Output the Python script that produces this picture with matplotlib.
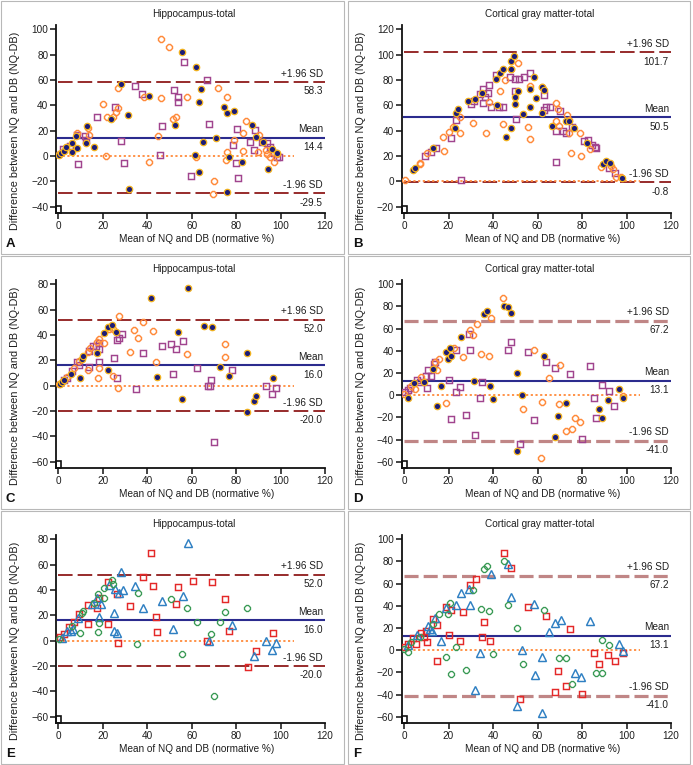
import matplotlib
matplotlib.use("Agg")
import matplotlib.pyplot as plt
from matplotlib import font_manager
from matplotlib.patches import Rectangle
import numpy as np

# the reference text is tall and narrow; use the narrow face when it is there
_names = {f.name for f in font_manager.fontManager.ttflist}
if 'Liberation Sans Narrow' in _names:
    HFAM, FS = ['Liberation Sans Narrow', 'DejaVu Sans'], 8.5
else:
    HFAM, FS = ['Liberation Sans', 'DejaVu Sans'], 7.2
plt.rcParams['font.family'] = HFAM
YFAM, YFS = ['Liberation Sans', 'DejaVu Sans'], 7.85

# ---- data (x = mean of NQ and DB, y = NQ - DB) ----
a_dots = [(0.5, 1), (1, 2), (2.7, 4), (3.3, 7), (6, 3.4), (6.3, 10.5), (8.2, 6), (8, 16),
          (12.5, 10.5), (13, 23.7), (16.2, 7), (23.7, 29), (28, 57), (31.5, 32), (32, -26.3),
          (41, 47.4), (52.5, 24.5), (55.6, 82), (62, 70.5), (64, 53), (63.4, 43), (63.4, -12.4),
          (65.3, 11.3), (61.6, 0.8), (71, 14), (74.5, 39), (75.8, 34.2), (79, 35.5), (76, -28.4),
          (77, -0.5), (82.5, -4.7), (87, 24.5), (89, 15.3), (92.3, 11.3), (94.5, -10.3),
          (96.3, 5.3), (98.5, 2)]
a_circles = [(0.5, 1.6), (8.5, 18), (13.5, 22), (14, 16.6), (20, 41), (22, 31), (24.5, 30.5),
             (27, 53.7), (27, 37.6), (26, 35), (21.5, 0.3), (38.5, 46.3), (41, -4.5), (45, 16),
             (46, 92.4), (46, 45.5), (49.7, 86), (51.5, 29), (53, 31), (57.7, 46.3), (62, -0.5),
             (70.2, -19.5), (69.8, -30), (72, 53.4), (75.8, 46.3), (76, 3.4), (75.5, -3.2),
             (79, 13), (83, 18.4), (83.3, 4), (84.5, 27.6), (90, 3.4), (90.5, 16.6), (93.4, 4.7),
             (93.8, 1.6), (95.2, -1), (97, -4.5), (98.3, 1.6)]
a_squares = [(2.3, 5.3), (5.3, 8), (8.3, 16.6), (9, -6.3), (12, 15.8), (12.5, 12.6), (17.3, 30.5),
             (25.5, 39), (28, 12), (29.6, -5.3), (34.5, 55.5), (37.6, 49), (45.7, 0.5),
             (46.5, 23.7), (52, 51.8), (53.7, 46.3), (53.7, 42.4), (56.7, 74), (59.7, -15.8),
             (67, 60), (68, 25.3), (78.5, 8.7), (80, -5.8), (80.3, 21), (81, -17.6), (86.3, 11.3),
             (88, 4.7), (88.5, 20.5), (91.5, 11.3), (93.8, 10), (95.2, 7.4), (97, 2), (98.3, -0.5),
             (99.5, -0.5)]

b_dots = [(4, 9), (5.1, 10.3), (13, 26), (22.8, 41.8), (23.5, 54.2), (24.3, 56.8), (28.8, 63.7),
          (32, 65), (35, 69.5), (41.5, 80.5), (42, 60.3), (43, 85.3), (44.5, 89), (46, 34.7),
          (48, 41.8), (48, 88.4), (48.3, 95), (49.5, 99), (49.8, 66.8), (49.8, 61), (51.3, 71.6),
          (53.5, 53), (56.5, 58.4), (56.8, 73), (58.5, 82), (59.5, 65.5), (62, 74.2), (62.9, 72),
          (62, 53.7), (66.6, 43.7), (72.7, 47.9), (74, 47.9), (76.5, 42.4), (82.3, 30.5),
          (89.5, 13.7), (91, 15.8), (92.5, 14.2), (98, 2.4)]
b_circles = [(0.3, 1), (7, 14.7), (7.3, 13.7), (10.5, 22), (17.5, 34.7), (18, 24.2), (20, 39.2),
             (21.8, 43.2), (25, 50.5), (25, 38.4), (31, 45.8), (37, 37.9), (38, 62.9), (43.3, 71.6),
             (44.5, 45.3), (45.3, 80), (48.3, 89), (51.3, 93.7), (55.5, 43.2), (56.5, 75.3),
             (56.5, 33.2), (62, 74.7), (68.3, 61.6), (68.3, 47.9), (69.2, 56.8), (69.8, 43.7),
             (73.2, 52.4), (74, 48.4), (74.2, 38.4), (75, 22), (79, 38.4), (79.4, 20), (83.5, 25.3),
             (88.5, 11.6), (93, 12.4), (94, 9.7), (95.5, 3.2), (97.4, 3.7)]
b_squares = [(9.3, 20), (12.3, 23.4), (14.5, 26.6), (21.3, 33.9), (23.5, 48.4), (25.5, 1),
             (30.3, 61), (31.5, 63.7), (34.2, 68.9), (35.3, 72.6), (35.6, 62.1), (36.3, 66.8),
             (37.8, 70), (38.3, 76), (38.9, 58.4), (41.5, 84), (42.5, 58.9), (44.5, 58.9),
             (47.6, 82.6), (49.8, 80.5), (49.8, 71.6), (50.5, 48.9), (51.6, 80.5), (53.9, 82),
             (56.8, 85.3), (63, 56.3), (63, 68), (64, 58.4), (65.5, 58.4), (68.5, 39.7),
             (68.1, 15.5), (70, 55.8), (71.6, 39.7), (73, 38.4), (75.3, 43.2), (81, 32.1),
             (82.8, 32.6), (84.3, 28.7), (85.8, 27.4), (86.5, 26.6), (92.3, 10.8), (94.8, 6.8)]

c_dots = [(0.7, 1), (1.6, 3.2), (2.7, 4.5), (5.5, 9), (9.7, 5.8), (10.5, 21), (11.2, 23.7),
          (17.5, 25.5), (20.7, 41.3), (22.2, 12.4), (22.5, 46.6), (24, 47.9), (25.8, 42),
          (41.5, 69), (44.5, 7), (54, 42), (55.5, -10.5), (58.5, 76.8), (65.5, 47.4), (69, 46.6),
          (72.7, 15), (76.8, 7.9), (85, 26), (85, -20.5), (88, -12), (88.8, -7.9), (96.5, 5.8)]
c_circles = [(0.5, 1), (3.7, 7), (7, 14.2), (9.3, 19.5), (13.5, 26.8), (13.5, 12.4), (14.3, 29.5),
             (17.3, 34.2), (17.7, 5.8), (18.3, 36.8), (18.3, 13.7), (20.5, 33.4), (22.8, 44.7),
             (24.5, 44.7), (24.7, 7.9), (27, -2.1), (27.3, 55.3), (32.3, 26.8), (34, 43.9),
             (36, 37.9), (38.3, 50), (42.5, 43.2), (43.8, 18.4), (58, 24.7), (74.8, 32.6),
             (74.8, 22.9)]
c_squares = [(2.5, 4.5), (4, 5.8), (6, 11.6), (8.5, 18.4), (9.5, 16.3), (13.6, 15), (13.8, 27.6),
             (15.8, 31.6), (17, 31.6), (18.3, 29), (18.3, 33.4), (18.3, 19), (25, 21.6),
             (26.3, 36), (26.5, 6.3), (27.5, 38), (28.5, 40.8), (35, -2.6), (38, 26), (46.5, 31.3),
             (50.7, 32.6), (51.8, 8.9), (52.8, 28.7), (56.3, 35.5), (62.3, 14.2), (67.2, 0),
             (68.2, 0), (68.7, 4.5), (70.2, -44.2), (78, 12.4), (93.3, 0), (96, -6.8), (98, -2.1)]

d_dots = [(1.8, -2.3), (4.5, 10.7), (8.9, 11.6), (13, 23.3), (14.6, -9.5), (16.5, 8.6),
          (19, 39.2), (19.8, 32.3), (20.5, 42.3), (21, 35.3), (25.5, 52.2), (31.5, 12.8),
          (36, 73), (37.5, 76), (38.5, 8.3), (39.8, -3.8), (45, 80.3), (46.8, 79.1), (48.3, 73.7),
          (51, 20.3), (51, -50.5), (52.8, 0.2), (63, 35.6), (67.8, -37.4), (69.3, -18.8),
          (72.8, -7.4), (87.8, -12.8), (89, -20.3), (91.5, -4.4), (96.6, 5.6), (98.3, -2.3)]
d_circles = [(0, 0.8), (3, 8.3), (5, 5.3), (7.5, 16.7), (13.8, 29.6), (15, 22.7), (15.8, 32.3),
             (19, -6.8), (22.5, 42.9), (26.5, 34.1), (29.5, 58.7), (30.8, 54.3), (32.8, 63.9),
             (34.8, 37.1), (38.3, 35.3), (38.9, 69.3), (44.5, 88), (53.3, -12.8), (58.5, 40.7),
             (62, -6.5), (65, 15.8), (69.5, -8), (70.3, 27.2), (76.8, -21), (73, -32.3),
             (75.3, -30.8), (79, -24.2), (61.5, -57), (98.3, -0.8)]
d_squares = [(0.3, 3.2), (1.8, 4.7), (2.6, 6.2), (6, 13.7), (7, 11.6), (10, 17.6), (10.5, 6.8),
             (10.8, 22.7), (12, 17.6), (13.5, 27.8), (14, 29.6), (20.3, 13.7), (21, -21.5),
             (23.5, 3.2), (23.5, 40.7), (25, 7.7), (28, -18.2), (29.3, 55.2), (29.6, 40.7),
             (31.8, -36), (34, -2.3), (35.1, 11.6), (46.8, 40.7), (48, 48.4), (52, -44.3),
             (55.8, 38.6), (58.5, -22.4), (64, 30.2), (67.8, 24.2), (74.8, 18.8), (83.8, 26.6),
             (85.3, -2.3), (86.3, -21), (88.8, 9.2), (92, 3.8), (94.6, -9.8), (79.8, -39.5)]

e_squares = [(0.7, 3), (2.7, 5), (5, 11), (7, 15), (9.5, 21), (13.5, 28), (13.5, 13), (18.3, 33.4),
             (17.5, 26), (22.5, 46.6), (22.3, 13), (26.3, 37), (27, -1.6), (32.3, 27), (38.3, 50),
             (41.5, 69), (42.7, 43), (43.8, 18.4), (44.5, 7), (52.8, 28.7), (54, 42), (60.7, 47.4),
             (69, 46.6), (67, 0), (74.8, 32.6), (76.8, 8), (85.5, -20.5), (88.8, -7.9), (96.5, 6)]
e_triangles = [(1.5, 2), (3.7, 8), (5.7, 8), (6.5, 9), (9, 18), (15, 29), (17.3, 34), (18.5, 19),
               (19, 29), (23, 44), (25, 21.6), (25.5, 41), (25, 8), (26.5, 6), (27.5, 38), (28, 54),
               (29, 40), (34.5, 43), (38, 26), (46.5, 31.3), (51.8, 8.9), (56.3, 35.5),
               (58.5, 76.8), (68, 0), (78, 12.4), (88, -12), (93.3, 0), (96.3, -7), (98, -2)]
e_circles = [(0.5, 1), (6, 11.6), (9.7, 6), (10.5, 21.6), (11.2, 23.7), (16, 30), (17.7, 37),
             (17.7, 6.5), (18.3, 14), (20.5, 34), (20.7, 41.3), (24.3, 48), (24.7, 44.7),
             (35.3, -2.5), (36, 38), (50.7, 32.6), (55.5, -10.5), (58, 25.5), (62.3, 14.5),
             (68.7, 5), (70.2, -44), (72.7, 15), (74.8, 23), (85, 26)]

f_squares = [(0.3, 3), (2, 6), (4, 10.7), (5.3, 5.3), (7.5, 15.2), (8.9, 11.6), (10, 17.6),
             (10.5, 7), (13, 27.8), (15, 22.7), (14.6, -9.5), (20.3, 13.7), (21.3, 36.2),
             (19, 39.2), (25, 8.3), (26.5, 34.1), (29.5, 58.7), (32.5, 63.9), (35, 11.6),
             (36, 25.7), (38.5, 8.6), (45, 88), (48.3, 73.7), (52, -44.3), (55.8, 38.6),
             (64, 30.8), (67.8, -37.4), (69.3, -18.5), (73, -32.3), (74.8, 18.8), (79.8, -39.5),
             (85.3, -2.3), (87.8, -12.8), (91.5, -4.4), (95, -9.5), (98.3, -2.3)]
f_triangles = [(1.8, 4.7), (6, 13.7), (10.8, 22), (11.5, 19), (12.6, 17.6), (14, 28.7), (16.5, 8.3),
               (18.8, 38.3), (23.5, 40.7), (25.8, 51.9), (29.3, 55.2), (29.6, 40.7), (32, -36),
               (34, -2.3), (38.9, 68.4), (46.8, 78), (48, 48.4), (51, -50.5), (53, 0.2),
               (58.5, 41.3), (58.8, -22.4), (62, -5.9), (61.8, -57), (65, 16), (67.8, 24.2),
               (70.5, 27.2), (76.8, -21), (79.5, -24.6), (83.8, 26.6), (96.6, 5.6), (98.5, -0.8)]
f_circles = [(0, 0.8), (1.8, -1.6), (3, 7.7), (7, 11.6), (13, 23.3), (15.8, 32.3), (19, -6.5),
             (19.8, 32.3), (20.5, 42.9), (21, -21.5), (23.5, 3.2), (28, -18.2), (30.8, 54.3),
             (34.8, 37.1), (36, 73), (37.5, 76), (38.3, 35.3), (39.8, -3.6), (45, 80.3),
             (46.8, 40.7), (51, 20.3), (53.5, -12.5), (63, 36.2), (69.5, -7.4), (72.8, -7.4),
             (75.3, -30.5), (86.3, -20.5), (88.8, 9.5), (89, -20.3), (92, 4.5)]

# (upper limit, mean, lower limit) per panel
stats_a = (58.3, 14.4, -29.5)
stats_b = (101.7, 50.5, -0.8)
stats_c = (52.0, 16.0, -20.0)
stats_d = (67.2, 13.1, -41.0)
stats_e = (52.0, 16.0, -20.0)
stats_f = (67.2, 13.1, -41.0)

yticks_a = (-40, 100)
yticks_b = (-20, 120)
yticks_c = (-60, 80)
yticks_d = (-60, 100)

# ---- styles ----
DOT = dict(marker='o', ms=4.6, mfc='#1c1c78', mec='#f2b21e', mew=0.9)
OCIRC = dict(marker='8', ms=4.7, mfc='none', mec='#ff8a3a', mew=1.05)
PSQ = dict(marker='s', ms=4.9, mfc='none', mec='#a0448e', mew=1.05)
RSQ = dict(marker='s', ms=4.7, mfc='none', mec='#e42828', mew=1.05)
BTRI = dict(marker='^', ms=5.3, mfc='none', mec='#2e7fc2', mew=1.05)
GCIRC = dict(marker='8', ms=3.9, mfc='none', mec='#3a9a55', mew=0.95)

W, H = 693, 765
TXT = '#1e1e1e'

fig = plt.figure(figsize=(W / 100, H / 100), dpi=100)


def px_axes(l, t, r, b):
    return fig.add_axes([l / W, 1 - b / H, (r - l) / W, (b - t) / H])


def panel(col, row, series, stats, yt, title, letter, sd_color, sd_lw, sd_dash):
    fl = 1 if col == 0 else 348
    fr = 344 if col == 0 else 690
    ft = 1 + row * 255
    fb = ft + 253
    fig.add_artist(Rectangle((fl / W, 1 - fb / H), (fr - fl) / W, (fb - ft) / H,
                             transform=fig.transFigure, fill=False, ec='#b8b8b8', lw=0.8))

    al = 56 if col == 0 else 401.7
    ar = 325 if col == 0 else 671
    at = 25 + row * 255
    ab = 213.3 + row * 255
    ax = px_axes(al, at, ar, ab)

    for pts, st in series:
        p = np.array(pts)
        ax.plot(p[:, 0], p[:, 1], ls='none', zorder=3, **st)

    lo, hi = yt
    span = hi - lo
    ax.set_ylim(lo - span * 6.6 / 177.4, hi + span * 4.3 / 177.4)
    ax.set_xlim(-1.05, 120)
    ax.set_yticks(np.arange(lo, hi + 1, 20))
    ax.set_xticks(np.arange(0, 121, 20))

    up, mean, low = stats
    ax.plot([0, 120], [mean, mean], color='#2b2b8e', lw=1.5, zorder=2)
    for v in (up, low):
        ax.plot([0, 120], [v, v], color=sd_color, lw=sd_lw, ls=(0, sd_dash), zorder=2)
    ax.plot([0, 106], [0, 0], color='#ff8a3a', lw=1.3, ls=(0, (1.2, 1.4)), zorder=2)

    for lab, v in (('+1.96 SD', up), ('Mean', mean), ('-1.96 SD', low)):
        ax.annotate(lab, (119, v), xytext=(0, 2.5), textcoords='offset points',
                    ha='right', va='bottom', fontsize=FS, color=TXT)
        ax.annotate('%.1f' % v, (119, v), xytext=(0, -3), textcoords='offset points',
                    ha='right', va='top', fontsize=FS, color=TXT)

    for s in ('top', 'right'):
        ax.spines[s].set_visible(False)
    for s in ('left', 'bottom'):
        ax.spines[s].set_linewidth(1.3)
        ax.spines[s].set_color('#111111')
    ax.tick_params(direction='out', length=4, width=1.1, labelsize=FS, colors='#111111',
                   labelcolor=TXT, pad=1.5)
    ax.patch.set_alpha(0)
    # little box in the corner where the axes meet
    ax.add_patch(Rectangle((0, 0), 5 / (ar - al), 7 / (ab - at), transform=ax.transAxes,
                           fill=False, ec='#111111', lw=1.2, clip_on=False))

    cx = (al + ar) / 2
    fig.text((cx + 3) / W, 1 - (14 + row * 255) / H, title, ha='center', va='center',
             fontsize=FS, color=TXT)
    fig.text((cx + 6) / W, 1 - (ab + 26) / H, 'Mean of NQ and DB (normative %)', ha='center',
             va='center', fontsize=FS, color=TXT)
    fig.text((al - 41) / W, 1 - (ft + 130) / H, 'Difference between NQ and DB (NQ-DB)',
             ha='center', va='center', rotation=90, fontsize=YFS, family=YFAM, color=TXT)
    fig.text((fl + 5) / W, 1 - (fb - 4) / H, letter, ha='left', va='bottom',
             fontsize=9.5, fontweight='bold', family=YFAM, color='#111111')


dark_dash = (7.5, 2.6)
rose_dash = (4.4, 1.6)
panel(0, 0, [(a_squares, PSQ), (a_circles, OCIRC), (a_dots, DOT)], stats_a, yticks_a,
      'Hippocampus-total', 'A', '#972b2b', 1.4, dark_dash)
panel(1, 0, [(b_squares, PSQ), (b_circles, OCIRC), (b_dots, DOT)], stats_b, yticks_b,
      'Cortical gray matter-total', 'B', '#972b2b', 1.4, dark_dash)
panel(0, 1, [(c_squares, PSQ), (c_circles, OCIRC), (c_dots, DOT)], stats_c, yticks_c,
      'Hippocampus-total', 'C', '#972b2b', 1.4, dark_dash)
panel(1, 1, [(d_squares, PSQ), (d_circles, OCIRC), (d_dots, DOT)], stats_d, yticks_d,
      'Cortical gray matter-total', 'D', '#c08686', 2.3, rose_dash)
panel(0, 2, [(e_squares, RSQ), (e_triangles, BTRI), (e_circles, GCIRC)], stats_e, yticks_c,
      'Hippocampus-total', 'E', '#972b2b', 1.4, dark_dash)
panel(1, 2, [(f_squares, RSQ), (f_triangles, BTRI), (f_circles, GCIRC)], stats_f, yticks_d,
      'Cortical gray matter-total', 'F', '#c08686', 2.3, rose_dash)

fig.savefig('out.png', dpi=100)
